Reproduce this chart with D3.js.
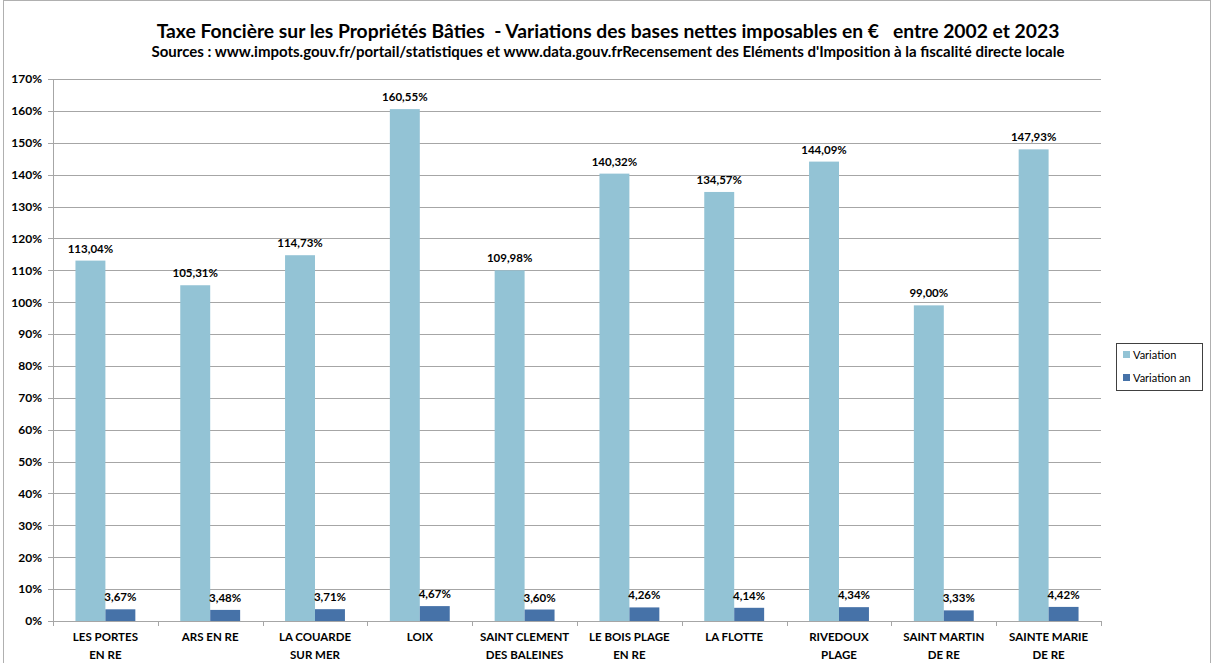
<!DOCTYPE html>
<html>
<head>
<meta charset="utf-8">
<script src="https://cdn.jsdelivr.net/npm/d3@7"></script>
<style>
  body { margin: 0; background: #fff; }
  text { font-family: Lato, "Liberation Sans", sans-serif; fill: #000; }
</style>
</head>
<body>
<div id="chart"></div>
<script>
var svgWidth = 1213;
var svgHeight = 663;

// Data
var communes = [
  ["LES PORTES", "EN RE"],
  ["ARS EN RE"],
  ["LA COUARDE", "SUR MER"],
  ["LOIX"],
  ["SAINT CLEMENT", "DES BALEINES"],
  ["LE BOIS PLAGE", "EN RE"],
  ["LA FLOTTE"],
  ["RIVEDOUX", "PLAGE"],
  ["SAINT MARTIN", "DE RE"],
  ["SAINTE MARIE", "DE RE"]
];
var variation = [113.04, 105.31, 114.73, 160.55, 109.98, 140.32, 134.57, 144.09, 99.00, 147.93];
var variationAn = [3.67, 3.48, 3.71, 4.67, 3.60, 4.26, 4.14, 4.34, 3.33, 4.42];
var seriesNames = ["Variation", "Variation an"];
var seriesColors = ["#93c3d5", "#4672a8"];
var yTicks = d3.range(0, 171, 10);

var margin = {top: 79, right: 112, bottom: 42, left: 53};
var width = svgWidth - margin.left - margin.right;
var height = svgHeight - margin.top - margin.bottom;

var svg = d3.select("#chart")
  .append("svg")
  .attr("width", svgWidth)
  .attr("height", svgHeight);

// outer chart border
svg.append("rect")
  .attr("x", 3.5).attr("y", 0.5)
  .attr("width", 1207).attr("height", svgHeight + 5)
  .attr("fill", "none")
  .attr("stroke", "#b0b0b0");

// titles
svg.append("text")
  .attr("x", 608).attr("y", 38)
  .attr("text-anchor", "middle")
  .style("font-size", "19.3px")
  .style("font-weight", "bold")
  .style("white-space", "pre")
  .text("Taxe Foncière sur les Propriétés Bâties  - Variations des bases nettes imposables en €   entre 2002 et 2023");

svg.append("text")
  .attr("x", 608).attr("y", 57)
  .attr("text-anchor", "middle")
  .style("font-size", "15px")
  .style("font-weight", "bold")
  .text("Sources : www.impots.gouv.fr/portail/statistiques et www.data.gouv.frRecensement des Eléments d'Imposition à la fiscalité directe locale");

var chartGroup = svg.append("g")
  .attr("transform", `translate(${margin.left}, ${margin.top})`);

var x0 = d3.scaleBand()
  .domain(d3.range(communes.length))
  .range([0, width]);

var x1 = d3.scaleBand()
  .domain([0, 1])
  .range([0, x0.bandwidth() * 2 / 3.5])
  .padding(0);

var groupOffset = (x0.bandwidth() - x1.range()[1]) / 2;

var y = d3.scaleLinear()
  .domain([0, 170])
  .range([height, 0]);

// gridlines
chartGroup.append("g")
  .selectAll("line")
  .data(yTicks)
  .enter()
  .append("line")
  .attr("x1", -5)
  .attr("x2", width)
  .attr("y1", d => Math.round(y(d)) + 0.5)
  .attr("y2", d => Math.round(y(d)) + 0.5)
  .attr("stroke", "#a6a6a6")
  .attr("stroke-width", 1);

// y axis
var leftAxis = d3.axisLeft(y)
  .tickValues(yTicks)
  .tickSize(0)
  .tickPadding(11)
  .tickFormat(d => d + "%");

var yAxisG = chartGroup.append("g").call(leftAxis);
yAxisG.select(".domain").remove();
yAxisG.selectAll("text")
  .style("font-family", "Lato, 'Liberation Sans', sans-serif")
  .style("font-size", "12px")
  .style("font-weight", "bold")
  .attr("fill", "#000");

chartGroup.append("line")
  .attr("x1", 0.5).attr("x2", 0.5)
  .attr("y1", 0).attr("y2", height)
  .attr("stroke", "#a6a6a6");

// bars
var series = [variation, variationAn];
series.forEach(function(vals, s) {
  chartGroup.append("g")
    .selectAll("rect")
    .data(vals)
    .enter()
    .append("rect")
    .attr("x", (d, i) => x0(i) + groupOffset + x1(s))
    .attr("y", d => y(d))
    .attr("width", x1.bandwidth())
    .attr("height", d => height - y(d))
    .attr("fill", seriesColors[s]);

  chartGroup.append("g")
    .selectAll("text")
    .data(vals)
    .enter()
    .append("text")
    .attr("x", (d, i) => x0(i) + groupOffset + x1(s) + x1.bandwidth() / 2)
    .attr("y", d => y(d) - 8)
    .attr("text-anchor", "middle")
    .style("font-size", "11.5px")
    .style("font-weight", "bold")
    .text(d => d.toFixed(2).replace(".", ",") + "%");
});

// x axis
var bottomAxis = d3.axisBottom(x0)
  .tickSize(0)
  .tickFormat("");
chartGroup.append("g")
  .attr("transform", `translate(0, ${height})`)
  .call(bottomAxis)
  .select(".domain")
  .attr("stroke", "#a6a6a6")
  .attr("d", `M0.5,0.5H${width}`);

// category tick marks between groups
chartGroup.append("g")
  .selectAll("line")
  .data(d3.range(communes.length + 1))
  .enter()
  .append("line")
  .attr("x1", d => Math.round(d * x0.step()) + 0.5)
  .attr("x2", d => Math.round(d * x0.step()) + 0.5)
  .attr("y1", height)
  .attr("y2", height + 5)
  .attr("stroke", "#a6a6a6");

// category labels
var catLabels = chartGroup.append("g")
  .selectAll("text")
  .data(communes)
  .enter()
  .append("text")
  .attr("x", (d, i) => x0(i) + x0.bandwidth() / 2)
  .attr("y", height + 20)
  .attr("text-anchor", "middle")
  .style("font-size", "11.5px")
  .style("font-weight", "bold");

catLabels.selectAll("tspan")
  .data(d => d)
  .enter()
  .append("tspan")
  .attr("x", function() { return d3.select(this.parentNode).attr("x"); })
  .attr("dy", (d, i) => i === 0 ? 0 : 18)
  .text(d => d);

// legend
var legend = svg.append("g")
  .attr("transform", "translate(1116, 343)");

legend.append("rect")
  .attr("x", 0.5).attr("y", 0.5)
  .attr("width", 86).attr("height", 47)
  .attr("fill", "#fff")
  .attr("stroke", "#404040");

var legendItem = legend.selectAll(".item")
  .data(seriesNames)
  .enter()
  .append("g")
  .attr("class", "item")
  .attr("transform", (d, i) => `translate(7, ${8 + i * 23})`);

legendItem.append("rect")
  .attr("width", 7)
  .attr("height", 7)
  .attr("fill", (d, i) => seriesColors[i]);

legendItem.append("text")
  .attr("x", 10)
  .attr("y", 8)
  .style("font-size", "11px")
  .text(d => d);
</script>
</body>
</html>
